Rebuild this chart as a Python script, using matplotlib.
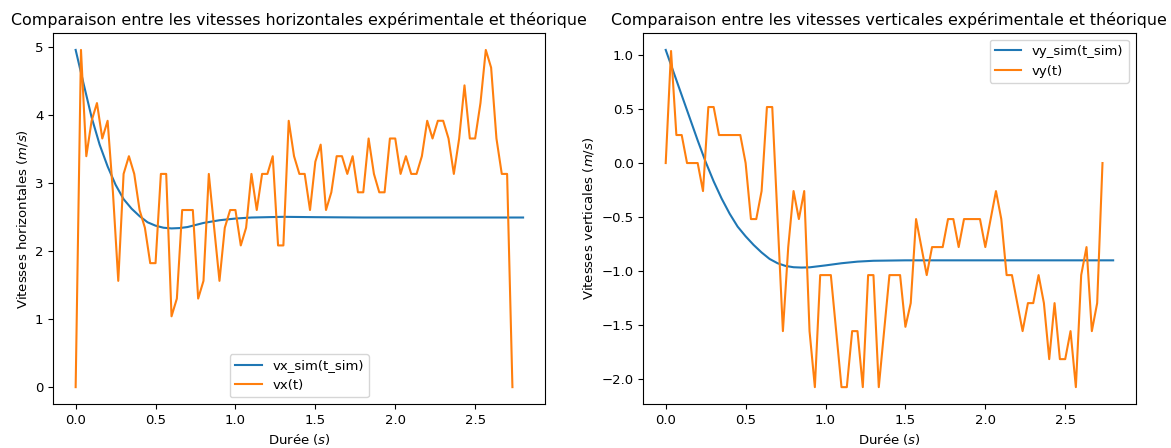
import matplotlib
matplotlib.use("Agg")
import matplotlib.pyplot as plt
import numpy as np

plt.rcParams["font.size"] = 9.55

# Experimental sample times (1/30 s frames)
n_frames = 83
frame_rate = 30.0

vx = [0.00, 4.95, 3.39, 3.91, 4.17, 3.65, 3.91, 2.86, 1.56, 3.13,
      3.39, 3.13, 2.60, 2.34, 1.82, 1.82, 3.13, 3.13, 1.04, 1.30,
      2.60, 2.60, 2.60, 1.30, 1.56, 3.13, 2.34, 1.56, 2.34, 2.60,
      2.60, 2.08, 2.34, 3.13, 2.60, 3.13, 3.13, 3.39, 2.08, 2.08,
      3.91, 3.39, 3.13, 3.13, 2.60, 3.31, 3.56, 2.60, 2.86, 3.39,
      3.39, 3.13, 3.39, 2.86, 2.86, 3.65, 3.13, 2.86, 2.86, 3.65,
      3.65, 3.13, 3.39, 3.13, 3.13, 3.39, 3.91, 3.65, 3.91, 3.91,
      3.65, 3.13, 3.65, 4.43, 3.65, 3.65, 4.17, 4.95, 4.69, 3.65,
      3.13, 3.13, 0.00]

vy = [0.00, 1.04, 0.26, 0.26, 0.00, 0.00, 0.00, -0.26, 0.52, 0.52,
      0.26, 0.26, 0.26, 0.26, 0.26, 0.00, -0.52, -0.52, -0.26, 0.52,
      0.52, -0.52, -1.56, -0.78, -0.26, -0.52, -0.26, -1.56, -2.08, -1.04,
      -1.04, -1.04, -1.56, -2.08, -2.08, -1.56, -1.56, -2.08, -1.04, -1.04,
      -2.08, -1.56, -1.04, -1.04, -1.04, -1.52, -1.30, -0.52, -0.78, -1.04,
      -0.78, -0.78, -0.78, -0.52, -0.52, -0.78, -0.52, -0.52, -0.52, -0.52,
      -0.78, -0.52, -0.26, -0.52, -1.04, -1.04, -1.30, -1.56, -1.30, -1.30,
      -1.04, -1.30, -1.82, -1.30, -1.82, -1.82, -1.56, -2.08, -1.04, -0.78,
      -1.56, -1.30, 0.00]

t = np.arange(n_frames) / frame_rate

# Simulated curves
t_sim_x = [0.0, 0.05, 0.1, 0.15, 0.2, 0.25, 0.3, 0.35, 0.4, 0.45, 0.5,
           0.55, 0.6, 0.65, 0.7, 0.8, 0.9, 1.0, 1.1, 1.2, 1.3, 1.5, 1.8,
           2.2, 2.8]
vx_sim = [4.95, 4.45, 3.96, 3.56, 3.24, 2.97, 2.76, 2.62, 2.51, 2.42, 2.37,
          2.34, 2.33, 2.335, 2.35, 2.41, 2.45, 2.475, 2.49, 2.495, 2.50, 2.495,
          2.49, 2.49, 2.49]

t_sim_y = [0.0, 0.05, 0.1, 0.15, 0.2, 0.25, 0.3, 0.35, 0.4, 0.45, 0.5,
           0.55, 0.6, 0.65, 0.7, 0.75, 0.8, 0.85, 0.9, 1.0, 1.1, 1.2, 1.3,
           1.5, 2.0, 2.8]
vy_sim = [1.05, 0.84, 0.63, 0.42, 0.21, 0.01, -0.17, -0.33, -0.47, -0.59, -0.68,
          -0.76, -0.83, -0.89, -0.93, -0.955, -0.967, -0.97, -0.968, -0.95, -0.93,
          -0.915, -0.907, -0.903, -0.903, -0.903]

fig = plt.figure(figsize=(11.71, 4.48), dpi=100)
ax1 = fig.add_axes([0.0455, 0.0982, 0.4203, 0.828])
ax2 = fig.add_axes([0.5494, 0.0982, 0.4203, 0.828])

ax1.plot(t_sim_x, vx_sim, label="vx_sim(t_sim)")
ax1.plot(t, vx, label="vx(t)")
ax1.set_title("Comparaison entre les vitesses horizontales expérimentale et théorique")
ax1.set_xlabel("Durée ($s$)")
ax1.set_ylabel("Vitesses horizontales ($m/s$)")
ax1.legend(loc="lower center")

ax2.plot(t_sim_y, vy_sim, label="vy_sim(t_sim)")
ax2.plot(t, vy, label="vy(t)")
ax2.set_title("Comparaison entre les vitesses verticales expérimentale et théorique")
ax2.set_xlabel("Durée ($s$)")
ax2.set_ylabel("Vitesses verticales ($m/s$)")
ax2.legend(loc="upper right")

fig.savefig("out.png", dpi=100)
